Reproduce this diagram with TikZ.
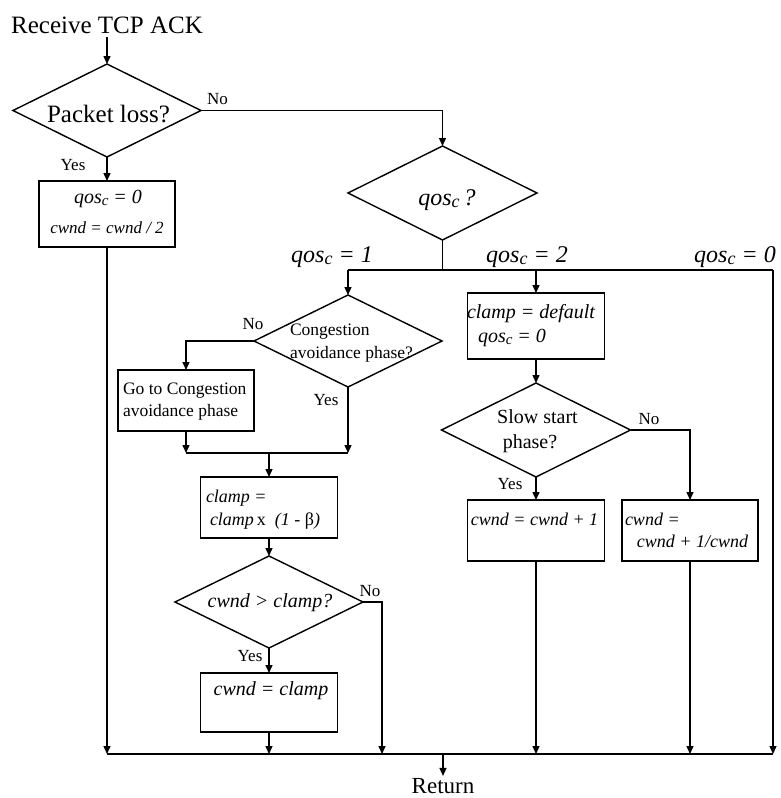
\documentclass[tikz,border=0pt]{standalone}
\usepackage{fontspec}
\setmainfont{Liberation Serif}
\usetikzlibrary{shapes.geometric,arrows.meta}
% italic "qos" with a small lowered c
\newcommand{\qc}{qos\raisebox{-0.1em}{\scalebox{0.75}{c}}}
\newcommand{\fs}[1]{\fontsize{#1}{#1}\selectfont}

\begin{document}
\begin{tikzpicture}[x=1pt,y=-1pt,line width=1.4pt,
  txt/.style={inner sep=0pt,outer sep=0pt,anchor=base},
  txtl/.style={inner sep=0pt,outer sep=0pt,anchor=base west},
  dia/.style={draw,diamond,inner sep=0pt,outer sep=0pt,minimum width=188pt,minimum height=93pt},
  procbox/.style={draw,rectangle,inner sep=0pt,outer sep=0pt,minimum width=137pt,minimum height=61pt},
  arr/.style={-{Triangle[length=8pt,width=7pt]}},
  yn/.style={txt,font=\fs{17}},
]
\useasboundingbox (0,0) rectangle (780,798);

% ---- entry and packet-loss test
\node[txt,font=\fs{25}] (recv) at (107,33) {Receive TCP ACK};
\node[dia] (d1) at (107,110.5) {};
\node[txt,font=\fs{25}] (d1t) at (108.5,122) {Packet loss?};
\node[yn] (no1) at (217.5,104) {No};
\node[yn] (yes1) at (73,170) {Yes};
\node[procbox,minimum width=136pt,minimum height=66pt] (b1) at (107,214) {};
\node[txt,font=\itshape\fs{20}] (b1a) at (108,203) {\qc{} = 0};
\node[txt,font=\itshape\fs{17}] (b1b) at (107,233) {cwnd = cwnd / 2};

\draw[arr,shorten <=4pt] (recv.south) -- (d1.north);
\draw[arr] (d1.south) -- (b1.north);

% ---- qos_c switch
\node[dia,minimum width=189pt,minimum height=94pt] (d2) at (442.5,193) {};
\node[txt,font=\itshape\fs{24}] (d2t) at (447,205) {\qc\,?};
\draw[arr] (d1.east) -| (d2.north);

\node[txt,font=\itshape\fs{24}] (q1) at (332,262) {\qc{} = 1};
\node[txt,font=\itshape\fs{24}] (q2) at (527,262) {\qc{} = 2};
\node[txt,font=\itshape\fs{24}] (q0) at (735,262) {\qc{} = 0};

\coordinate (s1) at (348,270);
\coordinate (s2) at (536,270);
\coordinate (s0) at (773,270);
\draw (d2.south) -- (d2.south |- s1);
\draw (s1) -- (s0);

% ---- qos_c = 1 branch
\node[dia,minimum height=92pt] (d3) at (348,341) {};
\node[txtl,font=\fs{17.5}] (d3a) at (290,335) {Congestion};
\node[txtl,font=\fs{17.5}] (d3b) at (290,358) {avoidance phase?};
\node[yn] (no3) at (253,329) {No};
\node[yn] (yes3) at (326,405) {Yes};
\draw[arr] (s1) -- (d3.north);

\node[procbox,minimum width=136pt] (go) at (186,400.5) {};
\node[txtl,font=\fs{17.5}] (goa) at (123,394) {Go to Congestion};
\node[txtl,font=\fs{17.5}] (gob) at (123,416) {avoidance phase};
\draw[arr] (d3.west) -| (go.north);

\coordinate (m1) at (186,453);
\coordinate (m2) at (348,453);
\draw[arr] (go.south) -- (m1);
\draw[arr] (d3.south) -- (m2);
\draw (m1) -- (m2);

\node[procbox] (cb) at (269,507.5) {};
\node[txtl,font=\itshape\fs{18}] (cba) at (206,502) {clamp =};
\node[txtl,font=\fs{18}] (cbb) at (210,525) {\textit{clamp}\,x\ \ \textit{(1 - }β\textit{)}};
\draw[arr] (cb.north |- m1) -- (cb.north);

\node[dia,minimum height=92pt] (d4) at (269,602) {};
\node[txt,font=\itshape\fs{20}] (d4t) at (270,607) {cwnd > clamp?};
\node[yn] (no4) at (370,596) {No};
\node[yn] (yes4) at (250,661) {Yes};
\draw[arr] (cb.south) -- (d4.north);

\node[procbox,minimum height=59pt] (cc) at (269,702.5) {};
\node[txt,font=\itshape\fs{20}] (cct) at (271,695) {cwnd = clamp};
\draw[arr] (d4.south) -- (cc.north);

% ---- qos_c = 2 branch
\node[procbox,minimum height=66pt] (cd) at (536,326) {};
\node[txtl,font=\itshape\fs{20}] (cda) at (467,318) {clamp = default};
\node[txtl,font=\itshape\fs{20}] (cdb) at (478,342) {\qc{} = 0};
\draw[arr] (s2) -- (cd.north);

\node[dia,minimum width=189pt,minimum height=94pt] (d5) at (536,430) {};
\node[txt,font=\fs{20}] (d5a) at (537.5,423) {Slow start};
\node[txt,font=\fs{20}] (d5b) at (530,448) {phase?};
\node[yn] (no5) at (649,424) {No};
\node[yn] (yes5) at (510,489) {Yes};
\draw[arr] (cd.south) -- (d5.north);

\node[procbox] (b6) at (536,530.5) {};
\node[txt,font=\itshape\fs{18}] (b6t) at (534.5,525) {cwnd = cwnd + 1};
\draw[arr] (d5.south) -- (b6.north);

\node[procbox,minimum width=136pt] (b7) at (690,530.5) {};
\node[txtl,font=\itshape\fs{18}] (b7a) at (625,525) {cwnd =};
\node[txt,font=\itshape\fs{18},anchor=base east] (b7b) at (748,547) {cwnd + 1/cwnd};
\draw[arr] (d5.east) -| (b7.north);

% ---- collecting line and return
\coordinate (busL) at (107,754);
\coordinate (busR) at (773,754);
\coordinate (j4) at (382,754);
\coordinate (rj) at (443,754);
\draw (busL) -- (busR);
\draw[arr] (b1.south) -- (b1.south |- busL);
\draw[arr] (cc.south) -- (cc.south |- busL);
\draw[arr] (d4.east) -| (j4);
\draw[arr] (b6.south) -- (b6.south |- busL);
\draw[arr] (b7.south) -- (b7.south |- busL);
\draw[arr] (s0) -- (busR);

\node[txt,font=\fs{23}] (ret) at (443,793) {Return};
\draw[arr,shorten >=2pt] (rj) -- (ret.north);
\end{tikzpicture}
\end{document}
